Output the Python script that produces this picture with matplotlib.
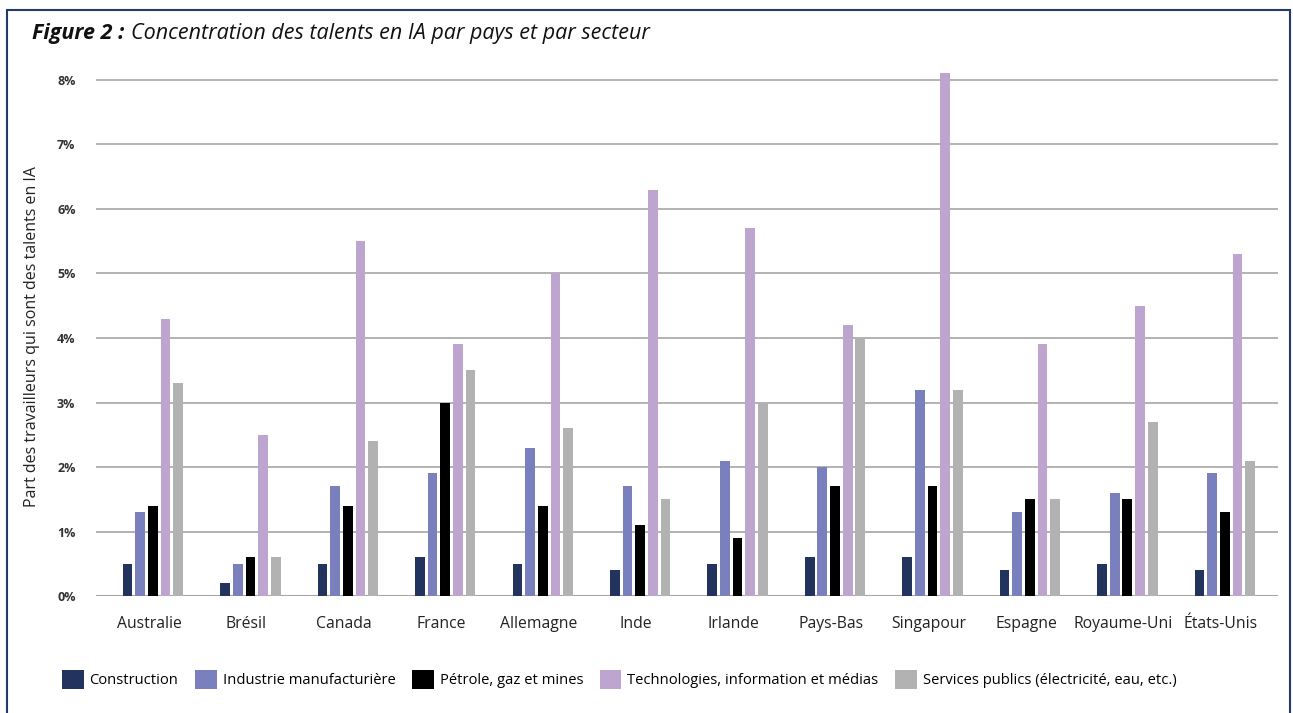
import numpy as np
import matplotlib.pyplot as plt
from matplotlib.patches import Rectangle

# Data (share of workers who are AI talent, %)
pays = ['Australie', 'Brésil', 'Canada', 'France', 'Allemagne', 'Inde',
        'Irlande', 'Pays-Bas', 'Singapour', 'Espagne', 'Royaume-Uni', 'États-Unis']
secteurs = ['Construction', 'Industrie manufacturière', 'Pétrole, gaz et mines',
            'Technologies, information et médias', 'Services publics (électricité, eau, etc.)']
construction = [0.5, 0.2, 0.5, 0.6, 0.5, 0.4, 0.5, 0.6, 0.6, 0.4, 0.5, 0.4]
industrie    = [1.3, 0.5, 1.7, 1.9, 2.3, 1.7, 2.1, 2.0, 3.2, 1.3, 1.6, 1.9]
petrole      = [1.4, 0.6, 1.4, 3.0, 1.4, 1.1, 0.9, 1.7, 1.7, 1.5, 1.5, 1.3]
technologies = [4.3, 2.5, 5.5, 3.9, 5.0, 6.3, 5.7, 4.2, 8.1, 3.9, 4.5, 5.3]
services     = [3.3, 0.6, 2.4, 3.5, 2.6, 1.5, 3.0, 4.0, 3.2, 1.5, 2.7, 2.1]
yticks = [0, 1, 2, 3, 4, 5, 6, 7, 8]

couleurs = ['#22335e', '#7a80bd', '#000000', '#bda5cf', '#b2b2b2']
series = [construction, industrie, petrole, technologies, services]

plt.rcParams['font.family'] = ['Open Sans', 'DejaVu Sans']

fig = plt.figure(figsize=(12.93, 7.13), dpi=100)
ax = fig.add_axes([0.0742, 0.164, 0.9145, 0.742])

x = np.arange(len(pays))
step = 0.13
width = 0.1
for i, (vals, col, lab) in enumerate(zip(series, couleurs, secteurs)):
    ax.bar(x + (i - 2) * step, vals, width, color=col, label=lab, zorder=3)

ax.set_xlim(-0.585, len(pays) - 0.45)
ax.set_ylim(0, 8.2)
ax.set_yticks(yticks)
ax.set_yticklabels([f'{t}%' for t in yticks], fontsize=9, fontweight='bold', color='#333333')
ax.set_xticks(x - 0.04)
ax.set_xticklabels(pays, fontsize=11.3, color='#222222')
ax.tick_params(axis='both', length=0)
ax.tick_params(axis='x', pad=14)
ax.tick_params(axis='y', pad=28)
for t in ax.get_yticklabels():
    t.set_horizontalalignment('left')

ax.grid(axis='y', color='#a6a6a6', linewidth=1.2, zorder=0)
for s in ax.spines.values():
    s.set_visible(False)
ax.axhline(0, color='#a6a6a6', linewidth=1.5, zorder=2)

ax.set_ylabel('Part des travailleurs qui sont des talents en IA', fontsize=11.5, color='#222222')
ax.yaxis.set_label_coords(-0.047, 0.49)

leg = fig.legend(loc='lower left', bbox_to_anchor=(0.038, 0.015), ncol=5, frameon=False,
                 fontsize=10.6, handlelength=1.45, handleheight=1.65, handletextpad=0.4,
                 columnspacing=1.15)

# title
fig.text(0.025, 0.953, 'Figure 2 :', fontsize=15.5, fontweight='bold', style='italic',
         color='#111111', va='center')
fig.text(0.101, 0.953, 'Concentration des talents en IA par pays et par secteur',
         fontsize=15.5, style='italic', color='#111111', va='center')

# frame around the figure
fig.patches.append(Rectangle((0.0055, -0.01), 0.992, 0.996, transform=fig.transFigure,
                             fill=False, edgecolor='#243a6a', linewidth=1.5))

fig.savefig('out.png', dpi=100)
